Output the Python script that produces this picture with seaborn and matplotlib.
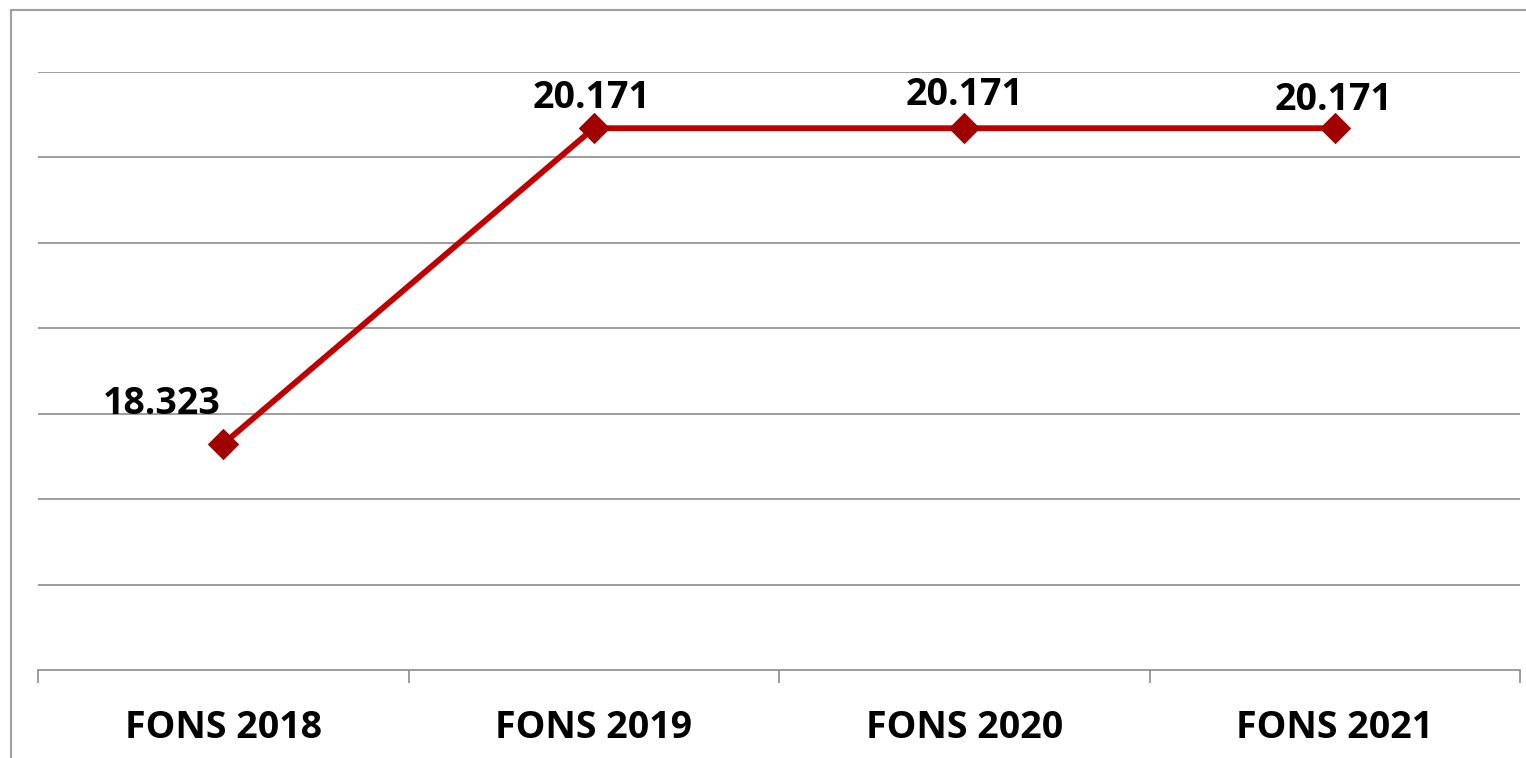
import pandas as pd
import matplotlib
matplotlib.use("Agg")
import matplotlib.pyplot as plt
import seaborn as sns
from matplotlib.patches import Rectangle

categorias = ["FONS 2018", "FONS 2019", "FONS 2020", "FONS 2021"]
valors = [18.323, 20.171, 20.171, 20.171]
etiquetes = ["18.323", "20.171", "20.171", "20.171"]

# desplaçament de les etiquetes (punts) respecte del marcador
despl = [(-44, 21.5), (-1.5, 14.5), (0, 16.5), (-1, 13)]


def main():
    df = pd.DataFrame({"cat": categorias, "val": valors})

    sns.set_theme(style="white")
    plt.rcParams["font.family"] = ["Open Sans", "DejaVu Sans"]

    fig = plt.figure(figsize=(15.26, 7.58), dpi=100)
    ax = fig.add_axes([38 / 1526, 88 / 758, 1482 / 1526, 598 / 758])

    sns.lineplot(data=df, x="cat", y="val", ax=ax, color="#C00000",
                 linewidth=4.2, marker="D", markersize=15,
                 markerfacecolor="#A00000", markeredgecolor="#A00000", zorder=3)

    for i, (v, t) in enumerate(zip(valors, etiquetes)):
        ax.annotate(t, (i, v), xytext=despl[i], textcoords="offset points",
                    ha="center", va="baseline", fontsize=27, fontweight="bold",
                    color="black")

    ax.set_ylim(17, 20.5)
    ax.set_xlim(-0.5, 3.5)
    ax.set_yticks([17.5, 18, 18.5, 19, 19.5, 20, 20.5])
    ax.yaxis.grid(True, color="#8c8c8c", linewidth=1.2)
    ax.tick_params(axis="y", left=False, labelleft=False)

    ax.set_xticks([-0.5, 0.5, 1.5, 2.5, 3.5])
    ax.set_xticklabels([])
    ax.set_xticks(range(len(categorias)), minor=True)
    ax.set_xticklabels(categorias, minor=True, fontsize=27, fontweight="bold",
                       color="black")
    ax.tick_params(axis="x", which="major", length=9, width=1.2,
                   color="#8c8c8c", bottom=True)
    ax.tick_params(axis="x", which="minor", length=0, pad=28)

    for s in ["top", "right", "left"]:
        ax.spines[s].set_visible(False)
    ax.spines["bottom"].set_color("#8c8c8c")
    ax.spines["bottom"].set_linewidth(1.2)
    ax.set_xlabel("")
    ax.set_ylabel("")

    fig.patches.append(Rectangle((11 / 1526, -0.1), 2, (748 / 758) + 0.1,
                                 transform=fig.transFigure, fill=False,
                                 edgecolor="#a0a0a0", linewidth=1.5))

    fig.savefig("out.png", dpi=100)


if __name__ == "__main__":
    main()
